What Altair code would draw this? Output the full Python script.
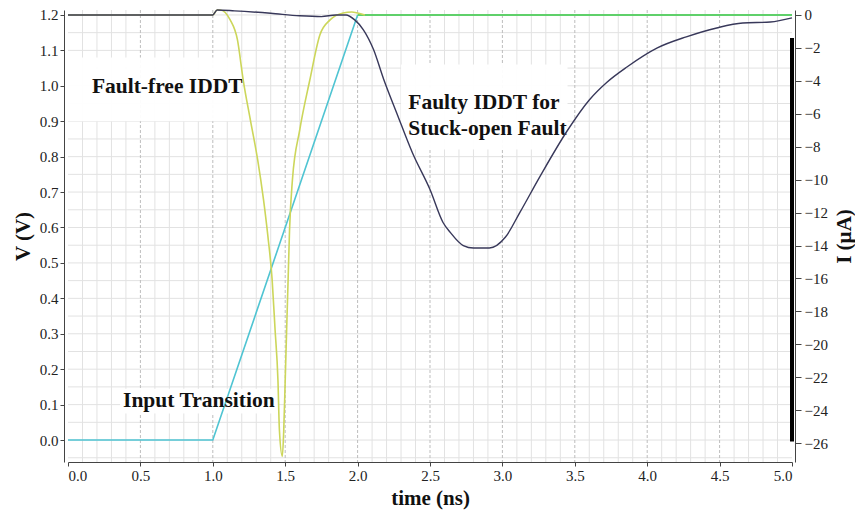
import altair as alt
import pandas as pd
import numpy as np

# ---------------- data ----------------
# Input transition (left axis, V)
t_input = [0.0, 1.0, 2.0]
v_input = [0.0, 0.0, 1.2]
# Output settled high (left axis, V)
t_out = [2.0, 5.0]
v_out = [1.2, 1.2]

# Fault-free IDDT (right axis, uA)
t_ff = [0.0, 1.0, 1.03, 1.05, 1.12, 1.17, 1.21, 1.26, 1.31, 1.35, 1.38, 1.41, 1.43,
        1.45, 1.46, 1.48, 1.49, 1.50, 1.51, 1.52, 1.53, 1.55, 1.60, 1.67, 1.74,
        1.81, 1.90, 1.96, 2.0, 2.05]
i_ff = [0.0, 0.0, 0.3, 0.3, -0.3, -1.5, -3.95, -6.4, -8.8, -11.2, -13.4, -16.1, -19.1,
        -22.2, -25.2, -26.8, -25.2, -22.2, -19.1, -16.1, -13.05, -10.0, -7.0, -3.95, -1.2,
        -0.3, 0.12, 0.18, 0.12, 0.0]

# Faulty IDDT for stuck-open fault (right axis, uA)
t_fy = [0.0, 1.0, 1.03, 1.15, 1.4, 1.6, 1.75, 1.85, 1.92, 1.98, 2.04, 2.11, 2.18, 2.27,
        2.38, 2.5, 2.59, 2.64, 2.73, 2.80, 2.91, 3.02, 3.12, 3.26, 3.45, 3.60, 3.72,
        3.86, 4.07, 4.27, 4.48, 4.66, 4.85, 5.0]
i_fy = [0.0, 0.0, 0.3, 0.25, 0.1, -0.05, -0.1, 0.0, 0.0, -0.3, -0.9, -2.1, -3.9, -5.95,
        -8.4, -10.6, -12.6, -13.2, -14.0, -14.15, -14.15, -13.5, -12.0, -9.8, -7.0, -5.16,
        -4.1, -3.16, -2.0, -1.33, -0.79, -0.49, -0.43, -0.18]

# tick labels / grid
x_ticks = [0.0, 0.5, 1.0, 1.5, 2.0, 2.5, 3.0, 3.5, 4.0, 4.5, 5.0]
v_ticks = [0.0, 0.1, 0.2, 0.3, 0.4, 0.5, 0.6, 0.7, 0.8, 0.9, 1.0, 1.1, 1.2]
i_ticks = [0, -2, -4, -6, -8, -10, -12, -14, -16, -18, -20, -22, -24, -26]
x_minor = [round(v, 2) for v in np.arange(0.1, 5.0, 0.1) if abs(v * 2 - round(v * 2)) > 1e-6]
v_minor = [round(v, 3) for v in np.arange(-0.05, 1.21, 0.05)]

# annotations (data coords: t, V)
ann_text = ["Fault-free IDDT", "Faulty IDDT for", "Stuck-open Fault", "Input Transition"]
ann_t = [0.165, 2.35, 2.35, 0.38]
ann_v = [0.997, 0.952, 0.879, 0.11]
box_t1 = [0.0, 2.30, 0.36]
box_t2 = [1.20, 3.45, 1.45]
box_v1 = [0.90, 0.82, 0.075]
box_v2 = [1.08, 1.06, 0.145]

# ---------------- chart ----------------
SERIF = "Liberation Serif"
xscale = alt.Scale(domain=[0, 5], nice=False, zero=False)
vscale = alt.Scale(domain=[-0.062, 1.214], nice=False, zero=False)
iscale = alt.Scale(domain=[-27.14, 0.30], nice=False, zero=False)

common = dict(grid=False, labelFont=SERIF, labelFontSize=15, labelColor="#222",
              titleFont=SERIF, titleFontSize=21, titleFontWeight="bold", titleColor="#111",
              domainColor="#444", tickColor="#444")

xaxis = alt.Axis(title="time (ns)", values=x_ticks, format=".1f",
                 tickSize=4, labelPadding=2, titlePadding=4, **common)
vaxis = alt.Axis(title="V (V)", values=v_ticks, format=".1f", offset=4,
                 tickSize=4, labelPadding=2, titlePadding=6, **common)
iaxis = alt.Axis(title="I (µA)", values=i_ticks, format="d", offset=3,
                 orient="right", titleAngle=270, titleBaseline="top",
                 tickSize=6, labelPadding=3, titlePadding=6, **common)

X = lambda f: alt.X(f"{f}:Q", scale=xscale, axis=xaxis)
YV = lambda f: alt.Y(f"{f}:Q", scale=vscale, axis=vaxis)
YI = lambda f: alt.Y(f"{f}:Q", scale=iscale, axis=iaxis)

df_xminor = pd.DataFrame({"t": x_minor})
df_xmajor = pd.DataFrame({"t": x_ticks[1:-1]})
df_vminor = pd.DataFrame({"v": v_minor})

grid_xminor = alt.Chart(df_xminor).mark_rule(color="#e2e2e2", strokeWidth=1).encode(x=X("t"))
grid_vminor = alt.Chart(df_vminor).mark_rule(color="#e2e2e2", strokeWidth=1).encode(y=YV("v"))
grid_xmajor = alt.Chart(df_xmajor).mark_rule(color="#bdbdbd", strokeWidth=1,
                                             strokeDash=[3, 2]).encode(x=X("t"))

df_box = pd.DataFrame({"t1": box_t1, "t2": box_t2, "v1": box_v1, "v2": box_v2})
boxes = alt.Chart(df_box).mark_rect(color="white", opacity=0.95).encode(
    x=X("t1"), x2="t2", y=YV("v1"), y2="v2")

df_in = pd.DataFrame({"t": t_input, "v": v_input})
df_out = pd.DataFrame({"t": t_out, "v": v_out})
line_in = alt.Chart(df_in).mark_line(color="#4fc4d2", strokeWidth=1.6).encode(x=X("t"), y=YV("v"))
line_out = alt.Chart(df_out).mark_line(color="#5fd06a", strokeWidth=2).encode(x=X("t"), y=YV("v"))

df_ann = pd.DataFrame({"t": ann_t, "v": ann_v, "txt": ann_text})
texts = alt.Chart(df_ann).mark_text(font=SERIF, fontSize=21.5, fontWeight="bold", color="#111",
                                    align="left", baseline="middle").encode(
    x=X("t"), y=YV("v"), text="txt:N")

left = alt.layer(grid_xminor, grid_vminor, grid_xmajor, boxes, line_in, line_out, texts)

df_ff = pd.DataFrame({"t": t_ff, "i": i_ff})
df_fy = pd.DataFrame({"t": t_fy, "i": i_fy})
line_ff = alt.Chart(df_ff).mark_line(color="#ccd65a", strokeWidth=1.6,
                                     interpolate="monotone").encode(x=X("t"), y=YI("i"))
line_fy = alt.Chart(df_fy).mark_line(color="#38385a", strokeWidth=1.4,
                                     interpolate="monotone").encode(x=X("t"), y=YI("i"))
df_bar = pd.DataFrame({"t": [5.0], "i1": [-1.4], "i2": [-25.9]})
bar = alt.Chart(df_bar).mark_rule(color="black", strokeWidth=4).encode(
    x=X("t"), y=YI("i1"), y2="i2")

right = alt.layer(line_ff, line_fy, bar)

chart = alt.layer(left, right).resolve_scale(y="independent").properties(
    width=724, height=452,
    autosize=alt.AutoSizeParams(type="none"),
    padding={"left": 68, "top": 10, "right": 63, "bottom": 48},
    background="white",
).configure_view(stroke=None)

chart.save("out.html", embed_options={"renderer": "svg", "actions": False})
